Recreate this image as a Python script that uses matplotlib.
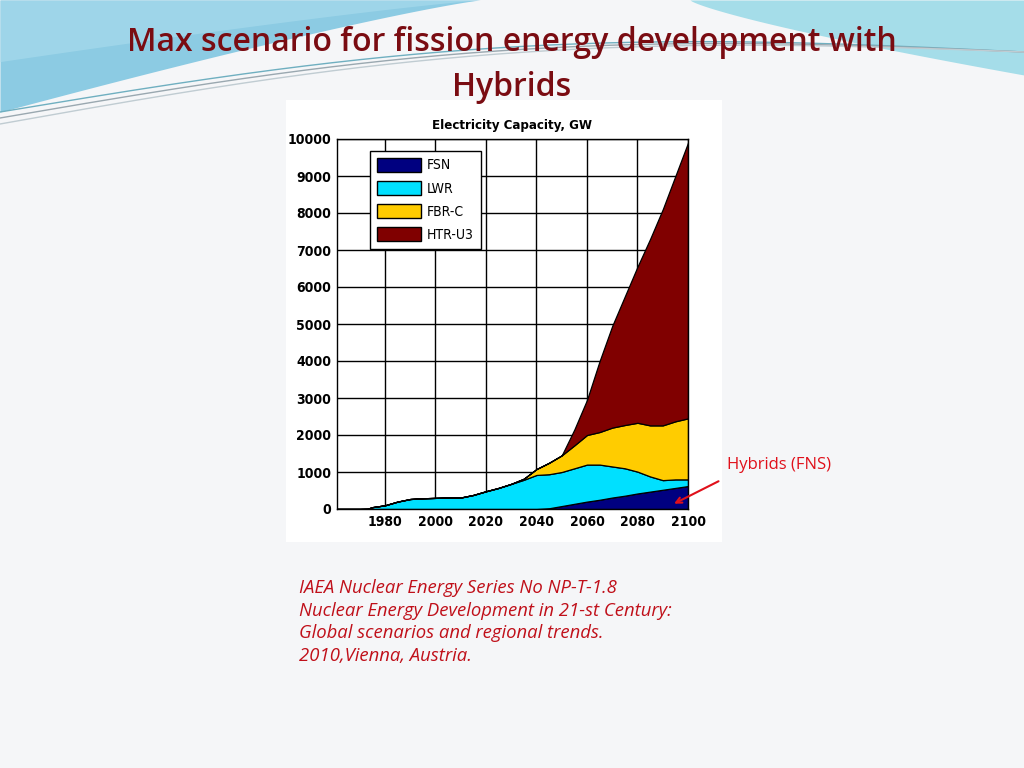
import numpy as np
import matplotlib
matplotlib.use('Agg')
import matplotlib.pyplot as plt
from matplotlib.patches import Patch

# Values (GW, stacked components)
years = [1961, 1965, 1970, 1973, 1975, 1980, 1985, 1990, 1995, 2000,
         2005, 2010, 2015, 2020, 2025, 2030, 2035, 2040, 2045, 2050,
         2055, 2060, 2065, 2070, 2075, 2080, 2085, 2090, 2095, 2100]
fsn = [0, 0, 0, 0, 0, 0, 0, 0, 0, 0,
       0, 0, 0, 0, 0, 0, 0, 0, 20, 80,
       140, 200, 250, 310, 360, 420, 470, 520, 570, 620]
lwr = [0, 0, 0, 5, 50, 100, 200, 270, 290, 300,
       310, 310, 380, 480, 570, 680, 790, 920, 920, 920,
       960, 1000, 950, 840, 740, 590, 410, 260, 230, 180]
fbr_c = [0, 0, 0, 0, 0, 0, 0, 0, 0, 0,
         0, 0, 0, 0, 0, 0, 30, 160, 310, 450,
         620, 800, 880, 1050, 1170, 1320, 1380, 1480, 1570, 1650]
htr_u3 = [0, 0, 0, 0, 0, 0, 0, 0, 0, 0,
          0, 0, 0, 0, 0, 0, 0, 0, 0, 0,
          430, 950, 1920, 2750, 3480, 4220, 5040, 5840, 6630, 7450]

series_names = ['FSN', 'LWR', 'FBR-C', 'HTR-U3']
series_colors = ['#000080', '#00E0FF', '#FFCC00', '#800000']

yticks = list(range(0, 10001, 1000))
xticks = [1980, 2000, 2020, 2040, 2060, 2080, 2100]

title_lines = 'Max scenario for fission energy development with\nHybrids'
chart_title = 'Electricity Capacity, GW'
note = 'Hybrids (FNS)'
citation = ('IAEA Nuclear Energy Series No NP-T-1.8\n'
            'Nuclear Energy Development in 21-st Century:\n'
            'Global scenarios and regional trends.\n'
            '2010,Vienna, Austria.')

narrow = ['Liberation Sans Narrow', 'DejaVu Sans']

W, H = 1024, 768
fig = plt.figure(figsize=(W / 100, H / 100), dpi=100)
fig.patch.set_facecolor('#F5F6F8')

# slide background decoration, in pixel coordinates
bg = fig.add_axes([0, 0, 1, 1])
bg.set_xlim(0, W)
bg.set_ylim(H, 0)
bg.axis('off')
bg.set_zorder(0)
xs = np.linspace(0, W, 300)
# left blue swoosh
xl = np.linspace(0, 480, 200)
yl = 112 * (1 - xl / 480) ** 1.15
bg.fill_between(xl, 0, yl, color='#8CCBE3', lw=0)
bg.fill_between(xl, 0, yl * 0.55, color='#A6DAEC', lw=0, alpha=0.7)
# right blue swoosh
xr = np.linspace(690, W, 200)
yr = 75 * ((xr - 690) / (W - 690)) ** 0.8
bg.fill_between(xr, 0, yr, color='#A5DDE9', lw=0)
# thin wave lines
for off, col in [(0, '#6FAFC0'), (6, '#9AA8B0'), (12, '#C0CCD2')]:
    yw = 112 - 60 * (xs / W) - 35 * np.sin(xs / W * np.pi) + off * (1 - xs / W)
    bg.plot(xs, yw, color=col, lw=1.0)
# white box behind the chart image
bg.add_patch(plt.Rectangle((286, 100), 436, 442, color='white', lw=0))

fig.text(0.5, 1 - 65 / H, title_lines, ha='center', va='center',
         fontsize=23, color='#7A0C12', family='Open Sans', fontweight='semibold',
         linespacing=1.5)

ax = fig.add_axes([337 / W, 1 - 509 / H, (688 - 337) / W, (509 - 139) / H])
ax.set_zorder(1)
ax.stackplot(years, fsn, lwr, fbr_c, htr_u3, colors=series_colors,
             edgecolor='black', linewidth=0.9)
ax.set_xlim(1961, 2100)
ax.set_ylim(0, 10000)
ax.set_xticks(xticks)
ax.set_yticks(yticks)
ax.grid(True, color='black', linewidth=1.0)
ax.set_axisbelow(False)
for a in ax.collections:
    a.set_zorder(3)
ax.tick_params(length=0, labelsize=10, pad=4)
for lab in ax.get_xticklabels() + ax.get_yticklabels():
    lab.set_family(narrow)
    lab.set_fontstretch('condensed')
    lab.set_fontweight('bold')
for s in ax.spines.values():
    s.set_color('black')
    s.set_linewidth(1.0)
    s.set_zorder(4)
ax.set_title(chart_title, fontsize=9.5, fontweight='bold', pad=7,
             family=narrow, fontstretch='condensed')

handles = [Patch(facecolor=c, edgecolor='black', label=n)
           for n, c in zip(series_names, series_colors)]
leg = ax.legend(handles=handles, loc='upper left', bbox_to_anchor=(0.094, 0.968),
                borderaxespad=0, fancybox=False, framealpha=1, edgecolor='black',
                handlelength=3.2, handleheight=1.15, labelspacing=0.62,
                borderpad=0.5, handletextpad=0.4,
                prop={'family': narrow, 'size': 10, 'stretch': 'condensed'})
leg.set_zorder(5)
leg.get_frame().set_linewidth(1.0)

fig.text(727 / W, 1 - 465 / H, note, ha='left', va='center', fontsize=12,
         color='#E0101A', family='Open Sans')
ax.annotate('', xy=(2093.5, 110), xycoords='data',
            xytext=(721, H - 480), textcoords='figure pixels',
            arrowprops=dict(arrowstyle='->', color='#E0101A', lw=1.5),
            annotation_clip=False, zorder=6)

fig.text(299 / W, 1 - 622 / H, citation, ha='left', va='center', fontsize=13.3,
         color='#C0101A', family='Open Sans', style='italic', linespacing=1.32)

fig.savefig('out.png', dpi=100, facecolor=fig.get_facecolor())
